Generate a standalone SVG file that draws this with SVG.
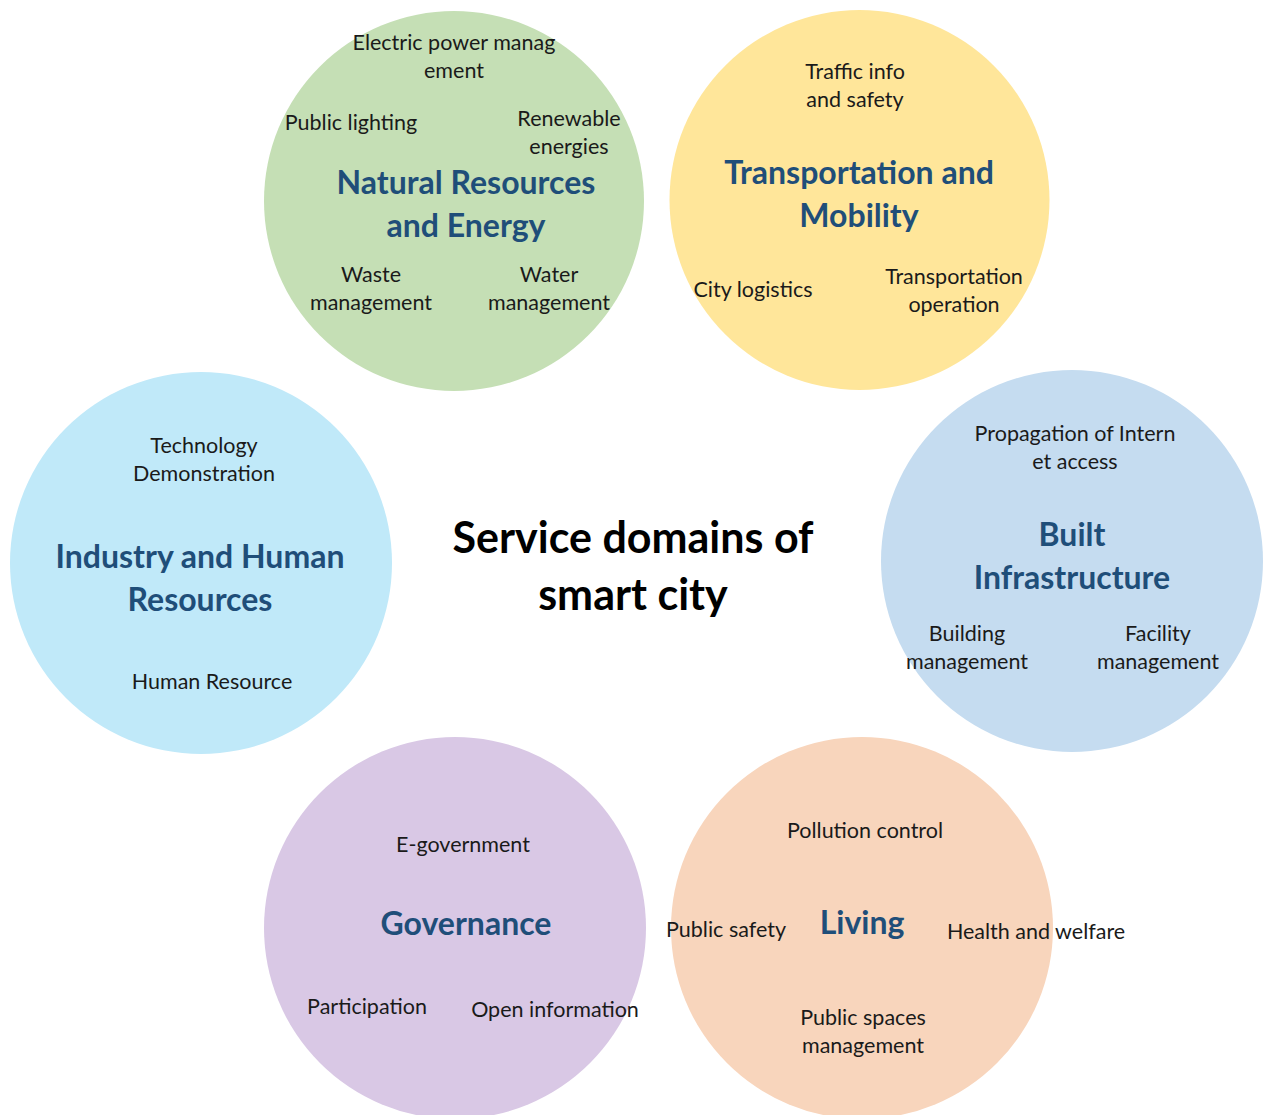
<svg xmlns="http://www.w3.org/2000/svg" width="1263" height="1115" viewBox="0 0 1263 1115">
  <style>
    .item { font-family: Lato, "Liberation Sans", sans-serif; font-size: 21.5px; fill: #1a1a1a; text-anchor: middle; }
    .head { font-family: Lato, "Liberation Sans", sans-serif; font-size: 32px; font-weight: bold; fill: #1F4E79; text-anchor: middle; }
    .title { font-family: Lato, "Liberation Sans", sans-serif; font-size: 43px; font-weight: bold; fill: #000; text-anchor: middle; }
  </style>
  <rect width="1263" height="1115" fill="#ffffff"/>

  <!-- Natural Resources and Energy -->
  <g id="natural-resources">
    <circle cx="454" cy="201" r="190" fill="#C5DFB5"/>
    <text class="item" x="454" y="50">Electric power manag</text>
    <text class="item" x="454" y="78">ement</text>
    <text class="item" x="351" y="130">Public lighting</text>
    <text class="item" x="569" y="126">Renewable</text>
    <text class="item" x="569" y="154">energies</text>
    <text class="head" x="466" y="194">Natural Resources</text>
    <text class="head" x="466" y="237">and Energy</text>
    <text class="item" x="371" y="282">Waste</text>
    <text class="item" x="371" y="310">management</text>
    <text class="item" x="549" y="282">Water</text>
    <text class="item" x="549" y="310">management</text>
  </g>

  <!-- Transportation and Mobility -->
  <g id="transportation">
    <circle cx="859.5" cy="200" r="190" fill="#FFE69A"/>
    <text class="item" x="855" y="79">Traffic info</text>
    <text class="item" x="855" y="107">and safety</text>
    <text class="head" x="859" y="184">Transportation and</text>
    <text class="head" x="859" y="227">Mobility</text>
    <text class="item" x="753" y="297">City logistics</text>
    <text class="item" x="954" y="284">Transportation</text>
    <text class="item" x="954" y="312">operation</text>
  </g>

  <!-- Industry and Human Resources -->
  <g id="industry">
    <circle cx="201" cy="563" r="191" fill="#C0E9F9"/>
    <text class="item" x="204" y="453">Technology</text>
    <text class="item" x="204" y="481">Demonstration</text>
    <text class="head" x="200" y="568">Industry and Human</text>
    <text class="head" x="200" y="611">Resources</text>
    <text class="item" x="212" y="689">Human Resource</text>
  </g>

  <!-- Built Infrastructure -->
  <g id="built-infrastructure">
    <circle cx="1072" cy="561" r="191" fill="#C5DCF0"/>
    <text class="item" x="1075" y="441">Propagation of Intern</text>
    <text class="item" x="1075" y="469">et access</text>
    <text class="head" x="1072" y="546">Built</text>
    <text class="head" x="1072" y="589">Infrastructure</text>
    <text class="item" x="967" y="641">Building</text>
    <text class="item" x="967" y="669">management</text>
    <text class="item" x="1158" y="641">Facility</text>
    <text class="item" x="1158" y="669">management</text>
  </g>

  <!-- Governance -->
  <g id="governance">
    <circle cx="455" cy="928" r="191" fill="#D9C8E5"/>
    <text class="item" x="463" y="852">E-government</text>
    <text class="head" x="466" y="935">Governance</text>
    <text class="item" x="367" y="1014">Participation</text>
    <text class="item" x="555" y="1017">Open information</text>
  </g>

  <!-- Living -->
  <g id="living">
    <circle cx="862" cy="928" r="191" fill="#F8D5BC"/>
    <text class="item" x="865" y="838">Pollution control</text>
    <text class="item" x="726" y="937">Public safety</text>
    <text class="head" x="862" y="934">Living</text>
    <text class="item" x="1036" y="939">Health and welfare</text>
    <text class="item" x="863" y="1025">Public spaces</text>
    <text class="item" x="863" y="1053">management</text>
  </g>

  <!-- Central title -->
  <g id="title">
    <text class="title" x="633" y="553">Service domains of</text>
    <text class="title" x="633" y="610">smart city</text>
  </g>

  <g id="connectors"/>
</svg>
